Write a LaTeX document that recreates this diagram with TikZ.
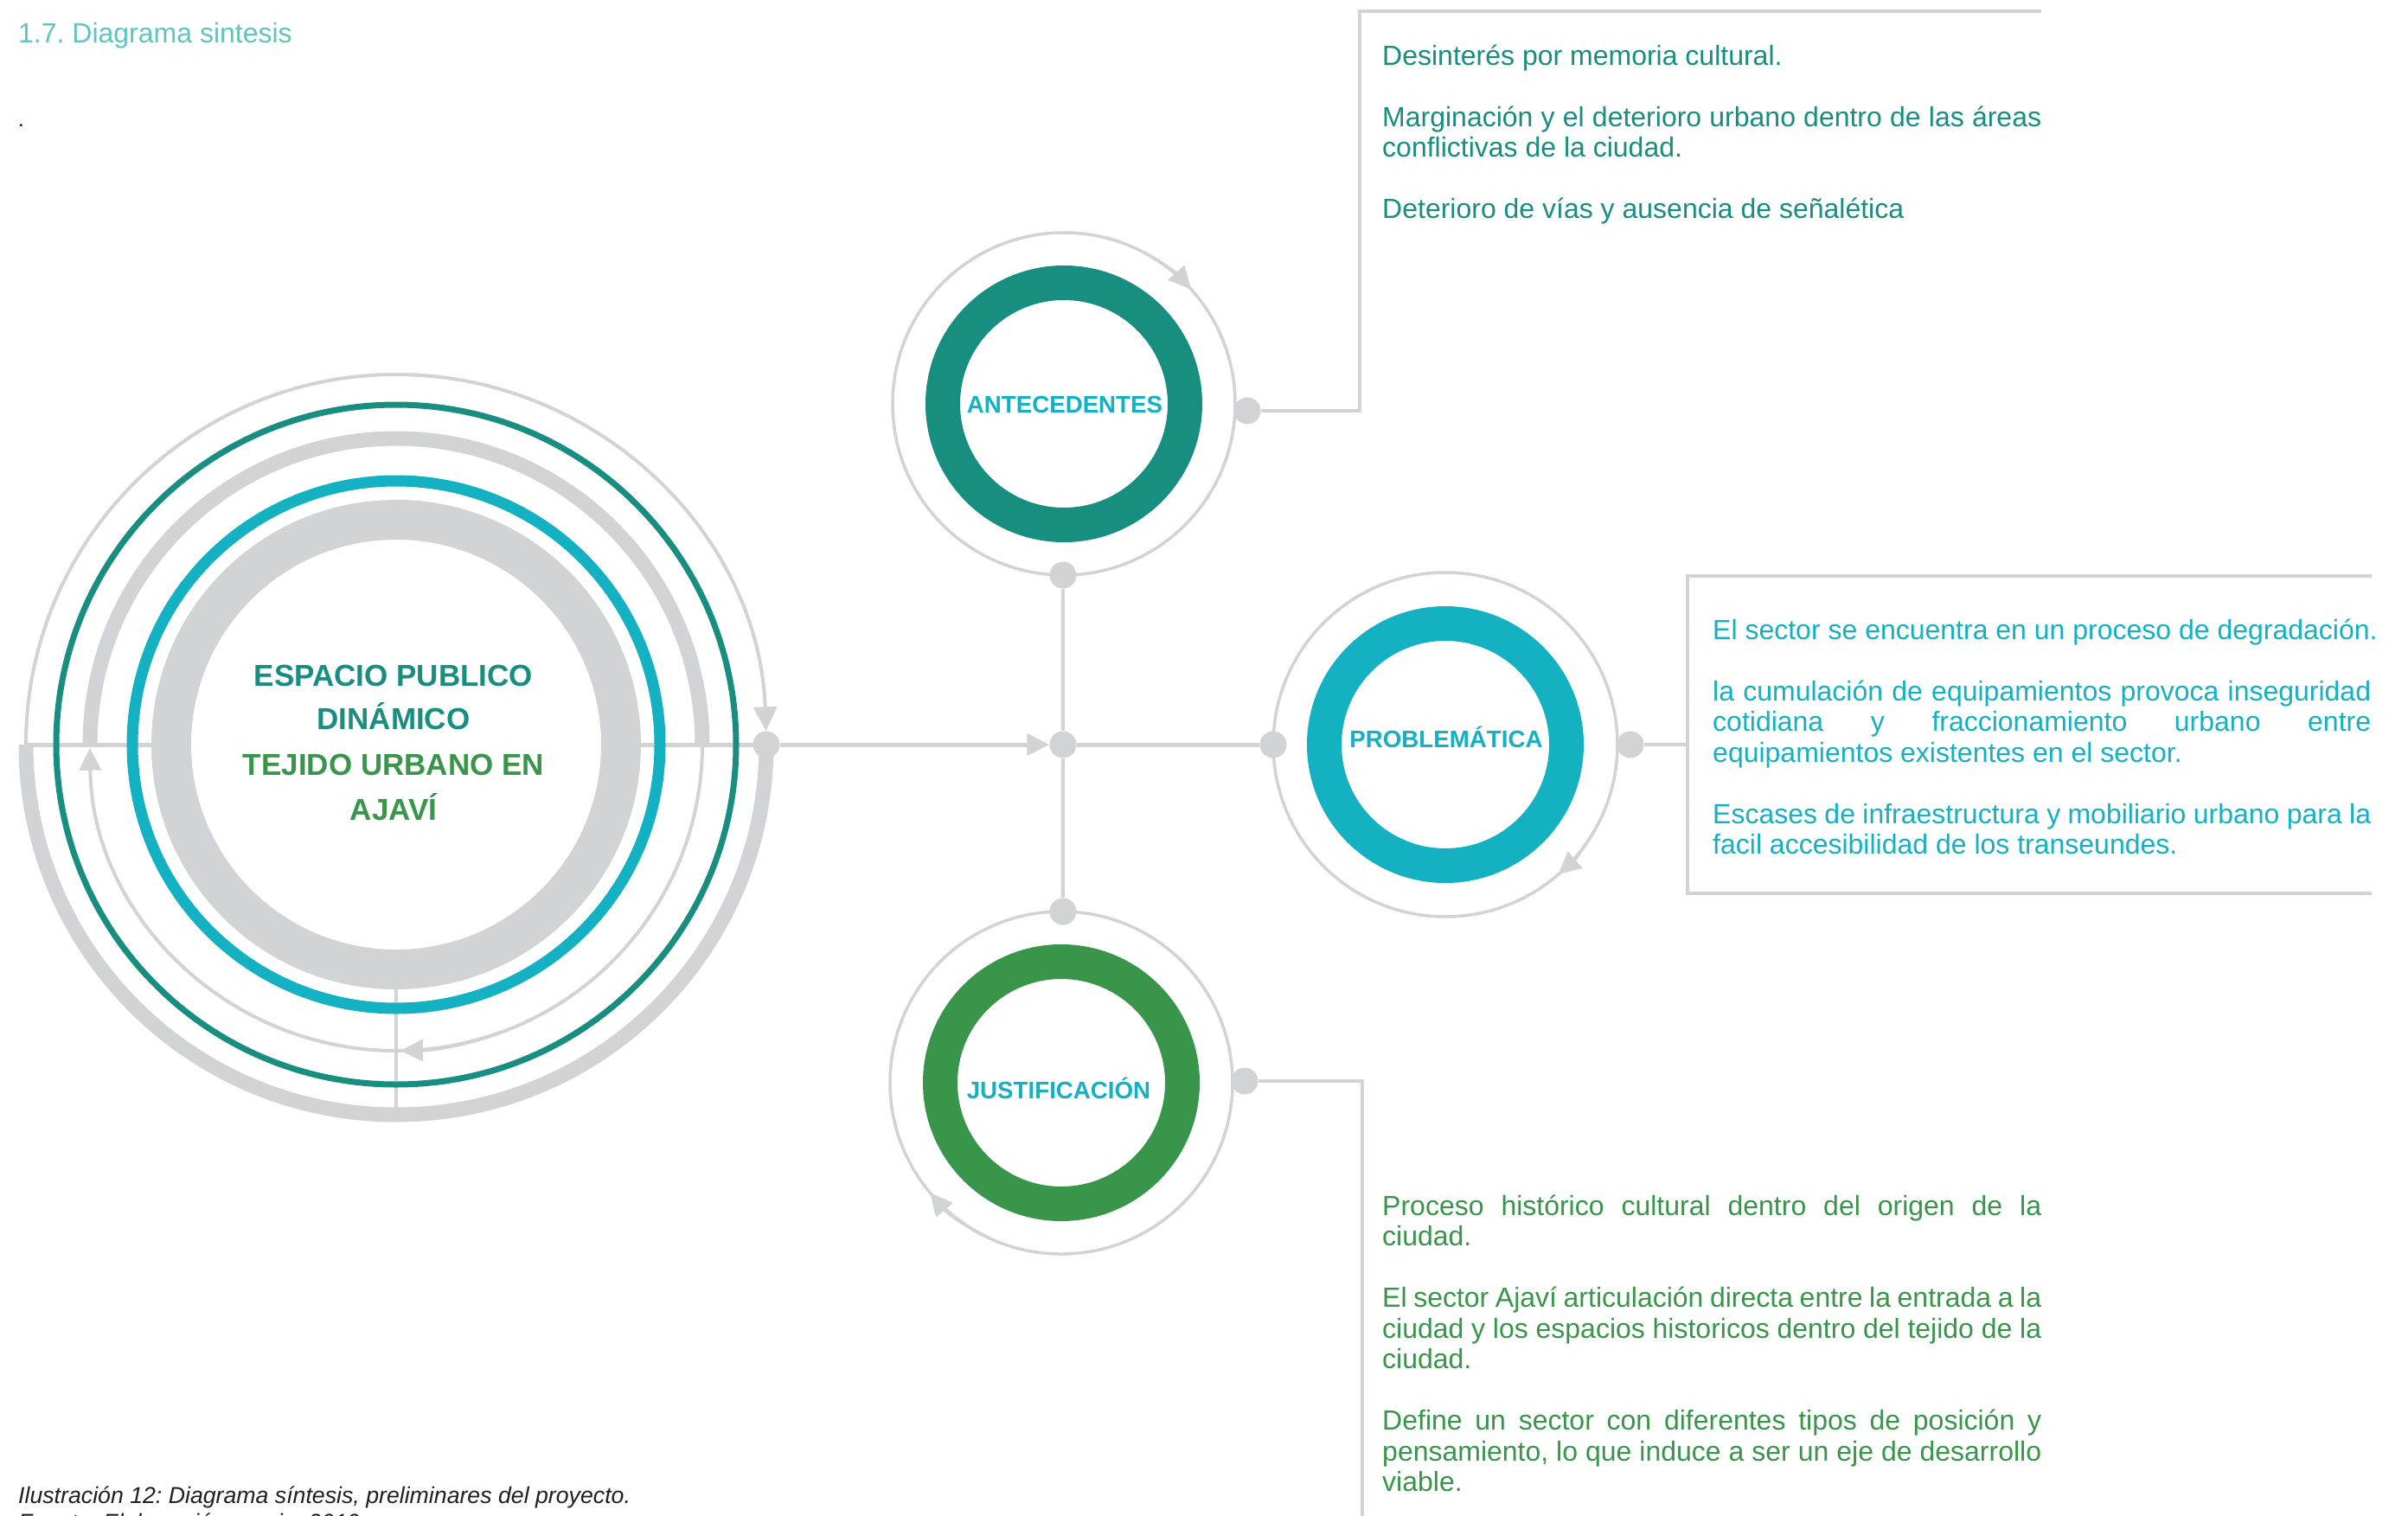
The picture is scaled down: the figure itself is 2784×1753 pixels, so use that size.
\documentclass[tikz,border=0pt]{standalone}
\usepackage{fontspec}
\setmainfont{Liberation Sans}
\usetikzlibrary{arrows.meta}
\definecolor{lg}{HTML}{D1D3D4}
\definecolor{dteal}{HTML}{178E80}
\definecolor{cyanc}{HTML}{13B1C2}
\definecolor{greenc}{HTML}{39954A}
\definecolor{titlec}{HTML}{5FC5C0}
\definecolor{capc}{HTML}{231F20}
\frenchspacing
\tikzset{
  gline/.style={draw=lg, line width=#1},
  blob/.style={circle, fill=lg, inner sep=0pt, minimum size=31pt},
  tipA/.style={-{Triangle[length=26pt,width=25pt]}},
  body/.style={anchor=base west, inner sep=0pt, font=\fontsize{32}{35.5}\selectfont},
  lab/.style={anchor=base, inner sep=0pt, text=cyanc, font=\bfseries\fontsize{27.7}{30}\selectfont},
  ctext/.style={anchor=base, inner sep=0pt, font=\bfseries\fontsize{35}{40}\selectfont},
}
\begin{document}
\begin{tikzpicture}[x=1pt,y=1pt]
\useasboundingbox (0,0) rectangle (2784,-1753);
\clip (0,0) rectangle (2784,-1753);
\fill[white] (0,0) rectangle (2784,-1753);

% centres
\coordinate (C0) at (458,-861);
\coordinate (CA) at (1230,-467);
\coordinate (CP) at (1671,-861);
\coordinate (CJ) at (1227,-1252);

% free points of connectors
\coordinate (L0) at (30,-861);
\coordinate (L1) at (200,-861);
\coordinate (R1) at (716,-861);
\coordinate (V0) at (458,-1140);
\coordinate (V1) at (458,-1289);

% junction blobs
\node[blob] (h1) at (886,-861) {};
\node[blob] (hc) at (1229,-861) {};
\node[blob] (ba) at (1229,-665) {};
\node[blob] (bj) at (1229,-1054) {};
\node[blob] (bp) at (1472,-861) {};
\node[blob] (da) at (1442,-475) {};
\node[blob] (dp) at (1885,-861) {};
\node[blob] (dj) at (1439,-1250) {};

% main connectors
\draw[gline=5pt] (L0) -- (L1);
\draw[gline=5pt] (R1) -- (h1.center);
\draw[gline=5pt, tipA] (h1) -- (hc);
\draw[gline=5pt] (hc) -- (bp);
\draw[gline=4pt] (ba) -- (hc) -- (bj);
\draw[gline=3.5pt] (V0) -- (V1);

% big circle arcs
\draw[gline=4pt, -{Triangle[length=28pt,width=27pt]}] ([shift={(C0)}]180:428) arc[start angle=180, end angle=2.1, radius=428];
\draw[gline=17pt] ([shift={(C0)}]180:428) arc[start angle=180, end angle=360, radius=428];
\draw[gline=17pt] ([shift={(C0)}]180:354) arc[start angle=180, end angle=0, radius=354];
\draw[gline=4pt, tipA] ([shift={(C0)}]0:354) arc[start angle=0, end angle=-179.4, radius=354];
\draw[gline=4pt, tipA] ([shift={(C0)}]-70:354) arc[start angle=-70, end angle=-89.2, radius=354];

% big circle rings
\draw[dteal, line width=7pt] (C0) circle[radius=393];
\draw[cyanc, line width=13pt] (C0) circle[radius=305];
\draw[lg, line width=46pt] (C0) circle[radius=260];

% small circles
\draw[gline=3.5pt] (CA) circle[radius=198];
\draw[gline=3.5pt, tipA] ([shift={(CA)}]62:198) arc[start angle=62, end angle=42, radius=198];
\draw[dteal, line width=40pt] (CA) circle[radius=140];

\draw[gline=3.5pt] (CP) circle[radius=199];
\draw[gline=3.5pt, tipA] ([shift={(CP)}]-30:199) arc[start angle=-30, end angle=-49, radius=199];
\draw[cyanc, line width=40pt] (CP) circle[radius=140];

\draw[gline=3.5pt] (CJ) circle[radius=198];
\draw[gline=3.5pt, tipA] ([shift={(CJ)}]245:198) arc[start angle=245, end angle=220, radius=198];
\draw[greenc, line width=40pt] (CJ) circle[radius=140];

% brackets
\coordinate (ka) at (1572,-13);
\coordinate (kae) at (2360,-13);
\draw[gline=4.5pt] (da) -| (ka) -- (kae);
\coordinate (kp1) at (2742,-666);
\coordinate (kp2) at (1951,-666);
\coordinate (kp3) at (1951,-1033);
\coordinate (kp4) at (2742,-1033);
\coordinate (kpm) at (1951,-861);
\draw[gline=4.5pt] (kp1) -- (kp2) -- (kp3) -- (kp4);
\draw[gline=4.5pt] (dp) -- (kpm);
\coordinate (kj) at (1575,-1775);
\draw[gline=4.5pt] (dj) -| (kj);

% centre text
\node[ctext, text=dteal] (e1) at (455,-793) {ESPACIO PUBLICO};
\node[ctext, text=dteal] (e2) at (455,-843) {DINÁMICO};
\node[ctext, text=greenc] (e3) at (455,-896) {TEJIDO URBANO EN};
\node[ctext, text=greenc] (e4) at (455,-948) {AJAVÍ};

% circle labels
\node[lab] (la) at (1231,-477) {ANTECEDENTES};
\node[lab] (lp) at (1672,-864) {PROBLEMÁTICA};
\node[lab] (lj) at (1224,-1270) {JUSTIFICACIÓN};

% antecedentes text
\node[body, text=dteal] (a1) at (1598,-75) {Desinterés por memoria cultural.};
\node[body, text=dteal] (a2) at (1598,-146) {\makebox[762pt][s]{Marginación y el deterioro urbano dentro de las áreas}};
\node[body, text=dteal] (a3) at (1598,-181) {conflictivas de la ciudad.};
\node[body, text=dteal] (a4) at (1598,-252) {Deterioro de vías y ausencia de señalética};

% problematica text
\node[body, text=cyanc] (p1) at (1980,-739) {El sector se encuentra en un proceso de degradación.};
\node[body, text=cyanc] (p2) at (1980,-810) {\makebox[761pt][s]{la cumulación de equipamientos provoca inseguridad}};
\node[body, text=cyanc] (p3) at (1980,-845.5) {\makebox[761pt][s]{cotidiana y fraccionamiento urbano entre}};
\node[body, text=cyanc] (p4) at (1980,-881) {equipamientos existentes en el sector.};
\node[body, text=cyanc] (p5) at (1980,-952) {\makebox[761pt][s]{Escases de infraestructura y mobiliario urbano para la}};
\node[body, text=cyanc] (p6) at (1980,-987.5) {facil accesibilidad de los transeundes.};

% justificacion text
\node[body, text=greenc] (j1) at (1598,-1405) {\makebox[762pt][s]{Proceso histórico cultural dentro del origen de la}};
\node[body, text=greenc] (j2) at (1598,-1440) {ciudad.};
\node[body, text=greenc] (j3) at (1598,-1511) {\makebox[762pt][s]{El sector Ajaví articulación directa entre la entrada a la}};
\node[body, text=greenc] (j4) at (1598,-1547) {\makebox[762pt][s]{ciudad y los espacios historicos dentro del tejido de la}};
\node[body, text=greenc] (j5) at (1598,-1582) {ciudad.};
\node[body, text=greenc] (j6) at (1598,-1653) {\makebox[762pt][s]{Define un sector con diferentes tipos de posición y}};
\node[body, text=greenc] (j7) at (1598,-1689) {\makebox[762pt][s]{pensamiento, lo que induce a ser un eje de desarrollo}};
\node[body, text=greenc] (j8) at (1598,-1724) {viable.};

% title, dot, caption
\node[anchor=base west, inner sep=0pt, text=titlec, font=\fontsize{32}{36}\selectfont] (title) at (21,-50) {1.7. Diagrama sintesis};
\node[anchor=base west, inner sep=0pt, font=\fontsize{24}{24}\selectfont] (pt) at (21,-146) {.};
\node[anchor=base west, inner sep=0pt, text=capc, font=\itshape\fontsize{26.7}{30}\selectfont] (cap1) at (21,-1738) {Ilustración 12: Diagrama síntesis, preliminares del proyecto.};
\node[anchor=base west, inner sep=0pt, text=capc, font=\itshape\fontsize{26.7}{30}\selectfont] (cap2) at (21,-1769) {Fuente: Elaboración propia, 2019};
\end{tikzpicture}
\end{document}
